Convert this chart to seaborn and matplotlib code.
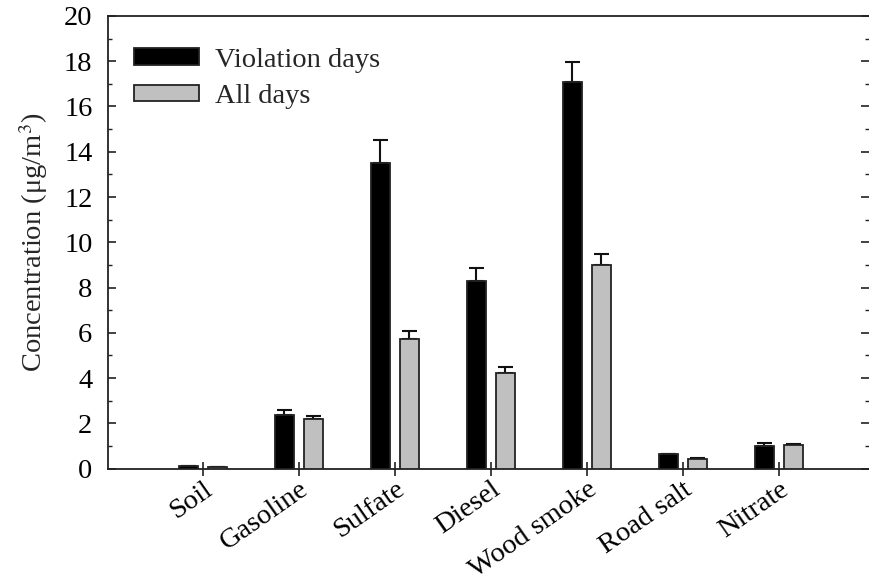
import matplotlib
matplotlib.use("Agg")
import matplotlib.pyplot as plt
import seaborn as sns
import numpy as np
import pandas as pd
from matplotlib.ticker import MultipleLocator

categories = ["Soil", "Gasoline", "Sulfate", "Diesel", "Wood smoke", "Road salt", "Nitrate"]
violation_vals = [0.10, 2.36, 13.50, 8.29, 17.07, 0.63, 1.00]
violation_err = [0.02, 0.22, 1.04, 0.55, 0.91, 0.03, 0.11]
all_vals = [0.07, 2.19, 5.74, 4.23, 9.00, 0.42, 1.04]
all_err = [0.01, 0.13, 0.32, 0.27, 0.47, 0.03, 0.06]
groups = ["Violation days", "All days"]

sns.set_style("ticks")
plt.rcParams["font.family"] = ["Liberation Serif", "DejaVu Serif"]
plt.rcParams["mathtext.fontset"] = "stix"

df = pd.DataFrame({
    "source": categories * 2,
    "value": violation_vals + all_vals,
    "group": [groups[0]] * len(categories) + [groups[1]] * len(categories),
})

fig = plt.figure(figsize=(8.7, 5.86), dpi=100)
ax = fig.add_axes([0.1238, 0.2005, 0.8752, 0.7722])

sns.barplot(data=df, x="source", y="value", hue="group", order=categories,
            hue_order=groups, palette=["black", "#c0c0c0"], width=0.6, gap=0.33,
            errorbar=None, edgecolor="#222222", linewidth=1.3, ax=ax, zorder=3)

errs = [violation_err, all_err]
for cont, e in zip(ax.containers, errs):
    xs = [b.get_x() + b.get_width() / 2 for b in cont]
    hs = [b.get_height() for b in cont]
    ax.errorbar(xs, hs, yerr=[np.zeros(len(e)), e], fmt="none", ecolor="#111111",
                elinewidth=1.5, capsize=5.4, capthick=1.5, zorder=2)

ax.set_xlim(-0.99, 6.94)
ax.set_ylim(0, 20)
ax.yaxis.set_major_locator(MultipleLocator(2))
ax.yaxis.set_minor_locator(MultipleLocator(1))

for s in ["left", "bottom", "top"]:
    ax.spines[s].set_linewidth(1.3)
    ax.spines[s].set_color("#222222")
ax.spines["right"].set_visible(False)

ax.tick_params(axis="y", which="major", direction="in", length=5.5, width=1.2,
               left=True, right=True, labelsize=20.5, colors="#222222", labelcolor="black", pad=11)
ax.tick_params(axis="y", which="minor", direction="in", length=3, width=1.0,
               left=True, right=True, colors="#222222")
ax.tick_params(axis="x", which="major", direction="inout", length=10, width=1.2,
               labelsize=20.5, colors="#222222", labelcolor="black", pad=1)
for lab in ax.get_xticklabels():
    lab.set_rotation(35)
    lab.set_ha("right")
    lab.set_rotation_mode("anchor")

ax.set_xlabel("")
ax.set_ylabel("Concentration (μg/m$^3$)", fontsize=20.5, labelpad=10)

leg = ax.legend(loc="upper left", bbox_to_anchor=(0.034, 0.93), frameon=False,
                fontsize=20.5, handlelength=2.3, handleheight=0.5,
                handletextpad=0.55, labelspacing=0.4, borderpad=0, borderaxespad=0)
for h in leg.legend_handles:
    h.set_edgecolor("#222222")
    h.set_linewidth(1.3)

fig.savefig("out.png", dpi=100)
